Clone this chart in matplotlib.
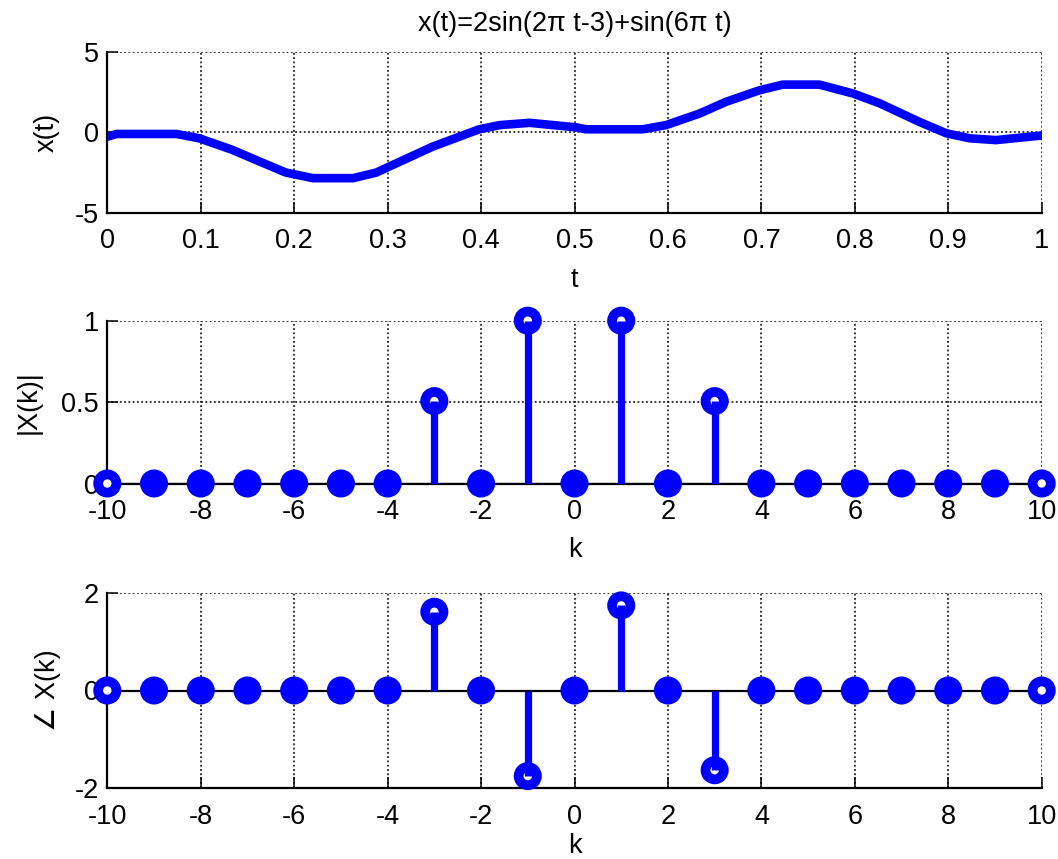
import numpy as np
import matplotlib
matplotlib.use("Agg")
import matplotlib.pyplot as plt

plt.rcParams['font.family'] = ['Liberation Sans', 'DejaVu Sans']

# ---- data ----
t_vals = [0.0, 0.01, 0.04, 0.074, 0.0985, 0.134, 0.163, 0.191, 0.22, 0.263,
          0.288, 0.298, 0.348, 0.398, 0.42, 0.452, 0.484, 0.502, 0.512, 0.573,
          0.598, 0.634, 0.662, 0.698, 0.723, 0.762, 0.798, 0.827, 0.869, 0.898,
          0.923, 0.951, 0.994, 1.0]
x_vals = [-0.27, -0.1, -0.1, -0.1, -0.37, -1.09, -1.81, -2.49, -2.84, -2.84,
          -2.49, -2.22, -0.89, 0.19, 0.45, 0.59, 0.41, 0.31, 0.19, 0.19,
          0.45, 1.17, 1.89, 2.61, 2.96, 2.96, 2.41, 1.79, 0.65, -0.06,
          -0.37, -0.48, -0.23, -0.2]

k_vals = [-10, -9, -8, -7, -6, -5, -4, -3, -2, -1, 0, 1, 2, 3, 4, 5, 6, 7, 8, 9, 10]
mag_vals = [0, 0, 0, 0, 0, 0, 0, 0.506, 0, 1.0, 0, 1.0, 0, 0.506, 0, 0, 0, 0, 0, 0, 0]
phase_vals = [0, 0, 0, 0, 0, 0, 0, 1.61, 0, -1.75, 0, 1.74, 0, -1.63, 0, 0, 0, 0, 0, 0, 0]

title_text = "x(t)=2sin(2\u03c0 t-3)+sin(6\u03c0 t)"
t_ticks = [0, 0.1, 0.2, 0.3, 0.4, 0.5, 0.6, 0.7, 0.8, 0.9, 1]
t_ticklabels = ['0', '0.1', '0.2', '0.3', '0.4', '0.5', '0.6', '0.7', '0.8', '0.9', '1']
k_ticks = [-10, -8, -6, -4, -2, 0, 2, 4, 6, 8, 10]
k_ticklabels = ['-10', '-8', '-6', '-4', '-2', '0', '2', '4', '6', '8', '10']

BLUE = (0, 0, 1)
FS = 19.5
W, H = 1058, 859

fig = plt.figure(figsize=(W / 100, H / 100), dpi=100)


def px_axes(left, top, right, bottom):
    return fig.add_axes([left / W, 1 - bottom / H, (right - left) / W, (bottom - top) / H])


def style(ax):
    for s in ['top', 'right']:
        ax.spines[s].set_visible(False)
    for s in ['left', 'bottom']:
        ax.spines[s].set_linewidth(1.6)
    ax.grid(True, color='black', linestyle=(0, (1.2, 1.6)), linewidth=1.1)
    ax.set_axisbelow(True)
    ax.tick_params(direction='in', length=8, width=1.1, labelsize=FS,
                   top=False, right=False)
    ax.tick_params(axis='x', pad=11)
    ax.tick_params(axis='y', pad=6)


ax1 = px_axes(107.3, 51.7, 1041.7, 213.0)
ax2 = px_axes(107.3, 320.7, 1041.7, 483.5)
ax3 = px_axes(107.3, 592.7, 1041.7, 788.3)

# top: time signal
ax1.plot(t_vals, x_vals, color=BLUE, linewidth=6.2, solid_capstyle='round',
         solid_joinstyle='round')
ax1.set_xlim(0, 1)
ax1.set_ylim(-5, 5)
ax1.set_xticks(t_ticks)
ax1.set_xticklabels(t_ticklabels)
ax1.set_yticks([-5, 0, 5])
ax1.set_yticklabels(['-5', '0', '5'])
style(ax1)
ax1.set_title(title_text, fontsize=FS, pad=15)
ax1.set_xlabel('t', fontsize=FS)
ax1.set_ylabel('x(t)', fontsize=FS)
ax1.xaxis.set_label_coords(0.5, -0.333)
ax1.yaxis.set_label_coords(-0.051, 0.5)


def stem(ax, vals):
    ax.axhline(0, color='black', linewidth=1.6, zorder=2)
    n = len(vals)
    faces = ['white' if (v != 0 or i in (0, n - 1)) else 'blue'
             for i, v in enumerate(vals)]
    ax.scatter(k_vals, vals, s=13.2 ** 2, facecolors=faces, edgecolors=BLUE,
               linewidths=7, zorder=3, clip_on=False)
    ax.vlines(k_vals, 0, vals, colors=BLUE, linewidth=5.2, zorder=4)
    ax.set_xlim(-10, 10)
    ax.set_xticks(k_ticks)
    ax.set_xticklabels(k_ticklabels)
    style(ax)
    ax.set_xlabel('k', fontsize=FS)


stem(ax2, mag_vals)
ax2.set_ylim(0, 1)
ax2.set_yticks([0, 0.5, 1])
ax2.set_yticklabels(['0', '0.5', '1'])
ax2.set_ylabel('|X(k)|', fontsize=FS)
ax2.xaxis.set_label_coords(0.5, -0.331)
ax2.yaxis.set_label_coords(-0.070, 0.5)

stem(ax3, phase_vals)
ax3.set_ylim(-2, 2)
ax3.set_yticks([-2, 0, 2])
ax3.set_yticklabels(['-2', '0', '2'])
ax3.set_ylabel('\u2220 X(k)', fontsize=FS)
ax3.xaxis.set_label_coords(0.5, -0.226)
ax3.yaxis.set_label_coords(-0.050, 0.5)

fig.savefig('out.png', dpi=100)
